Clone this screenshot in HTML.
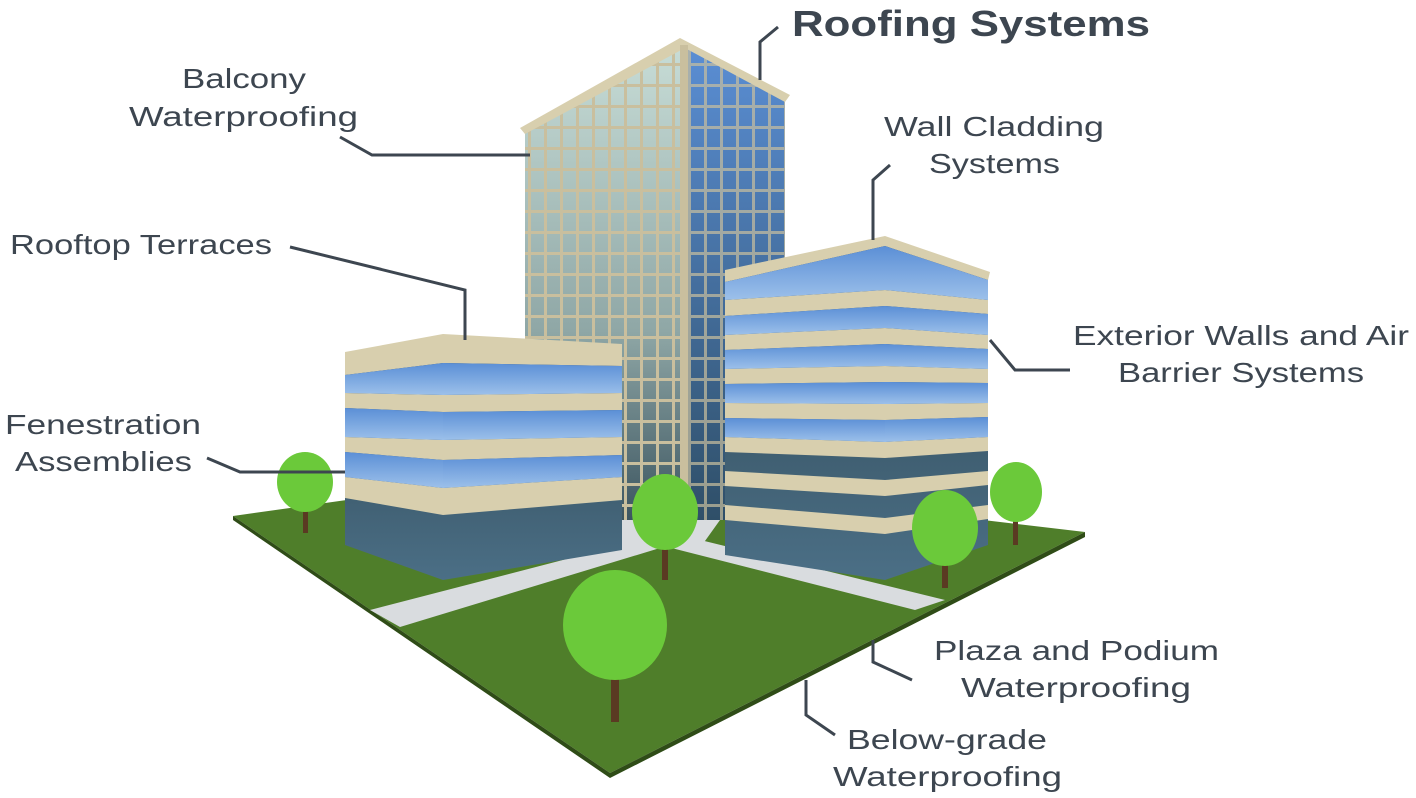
<!DOCTYPE html>
<html><head><meta charset="utf-8"><style>
body{margin:0;background:#fff;}
svg{display:block}
text{font-family:"Liberation Sans",sans-serif;fill:#3d4650;font-size:28px;}
</style></head><body>
<svg width="1416" height="798" viewBox="0 0 1416 798" xmlns="http://www.w3.org/2000/svg">
<defs>
<linearGradient id="gl" x1="0" y1="0" x2="0" y2="1"><stop offset="0" stop-color="#5b8fd6"/><stop offset="1" stop-color="#9cc0ea"/></linearGradient>
<linearGradient id="dk" x1="0" y1="0" x2="0" y2="1"><stop offset="0" stop-color="#2d4450"/><stop offset="1" stop-color="#4b6f86"/></linearGradient>
<linearGradient id="tw" x1="0" y1="0" x2="0" y2="1"><stop offset="0" stop-color="#c7dcd6"/><stop offset="0.6" stop-color="#8fa7a6"/><stop offset="1" stop-color="#3c5560"/></linearGradient>
<linearGradient id="tr" x1="0" y1="0" x2="0" y2="1"><stop offset="0" stop-color="#5a8ed4"/><stop offset="1" stop-color="#2f4f68"/></linearGradient>
<pattern id="twp" width="16" height="21" patternUnits="userSpaceOnUse"><rect x="0" y="0" width="3" height="21" fill="#c9bf9e"/><rect x="0" y="0" width="16" height="3" fill="#c9bf9e"/></pattern>
</defs>

<polygon points="233,516 560,470 1085,532 610,773" fill="#4f7e2a"/>
<polygon points="233,516 610,773 610,778 233,520" fill="#2f4c17"/>
<polygon points="610,773 1085,532 1085,537 610,778" fill="#2f4c17"/>
<polygon points="370,610 640,540 660,548 400,627" fill="#d9dcdf"/>
<polygon points="640,540 680,535 945,600 915,610" fill="#d9dcdf"/>
<polygon points="600,520 720,520 700,548 620,548" fill="#d9dcdf"/>

<polygon points="525,128 685,48 685,520 525,520" fill="url(#tw)"/>
<polygon points="525,128 685,48 685,520 525,520" fill="url(#twp)"/>
<polygon points="685,48 785,100 785,520 685,520" fill="url(#tr)"/>
<polygon points="685,48 785,100 785,520 685,520" fill="url(#twp)" opacity="0.7"/>
<polygon points="520,128 680,38 790,95 785,102 685,48 525,134" fill="#d8cfae"/>
<rect x="680" y="45" width="8" height="480" fill="#c9bf9e"/>

<polygon points="345,360 443,342 443,580 345,545" fill="url(#dk)"/>
<polygon points="443,342 622,352 622,550 443,580" fill="url(#dk)"/>
<g fill="#d8cfae">
<polygon points="345,352 443,334 443,363 345,375"/>
<polygon points="443,334 622,344 622,366 443,363"/>
<polygon points="345,393 443,395 443,412 345,408"/>
<polygon points="443,395 622,393 622,410 443,412"/>
<polygon points="345,437 443,440 443,460 345,452"/>
<polygon points="443,440 622,437 622,455 443,460"/>
<polygon points="345,477 443,488 443,515 345,498"/>
<polygon points="443,488 622,477 622,500 443,515"/>
</g>
<g fill="url(#gl)">
<polygon points="345,375 443,363 443,395 345,393"/>
<polygon points="443,363 622,366 622,393 443,395"/>
<polygon points="345,408 443,412 443,440 345,437"/>
<polygon points="443,412 622,410 622,437 443,440"/>
<polygon points="345,452 443,460 443,488 345,477"/>
<polygon points="443,460 622,455 622,477 443,488"/>
</g>

<polygon points="725,275 885,240 885,580 725,555" fill="url(#dk)"/>
<polygon points="885,240 988,275 988,545 885,580" fill="url(#dk)"/>
<polygon points="725,270 885,236 990,272 988,280 885,246 725,282" fill="#d8cfae"/>
<g fill="#d8cfae">
<polygon points="725,300 885,290 885,306 725,316"/><polygon points="885,290 988,300 988,314 885,306"/>
<polygon points="725,335 885,328 885,344 725,350"/><polygon points="885,328 988,335 988,349 885,344"/>
<polygon points="725,369 885,366 885,382 725,384"/><polygon points="885,366 988,369 988,383 885,382"/>
<polygon points="725,403 885,404 885,420 725,418"/><polygon points="885,404 988,403 988,417 885,420"/>
<polygon points="725,437 885,442 885,458 725,452"/><polygon points="885,442 988,437 988,451 885,458"/>
<polygon points="725,471 885,480 885,496 725,486"/><polygon points="885,480 988,471 988,485 885,496"/>
<polygon points="725,505 885,518 885,534 725,520"/><polygon points="885,518 988,505 988,519 885,534"/>
</g>
<g fill="url(#gl)">
<polygon points="725,282 885,246 885,290 725,300"/><polygon points="885,246 988,280 988,300 885,290"/>
<polygon points="725,316 885,306 885,328 725,335"/><polygon points="885,306 988,314 988,335 885,328"/>
<polygon points="725,350 885,344 885,366 725,369"/><polygon points="885,344 988,349 988,369 885,366"/>
<polygon points="725,384 885,382 885,404 725,403"/><polygon points="885,382 988,383 988,403 885,404"/>
<polygon points="725,418 885,420 885,442 725,437"/><polygon points="885,420 988,417 988,437 885,442"/>
</g>

<g>
<rect x="303" y="495" width="5" height="38" fill="#5a3a22"/><ellipse cx="305" cy="482" rx="28" ry="30" fill="#6bc93a"/>
<rect x="662" y="525" width="6" height="55" fill="#5a3a22"/><ellipse cx="665" cy="512" rx="33" ry="38" fill="#6bc93a"/>
<rect x="942" y="540" width="6" height="48" fill="#5a3a22"/><ellipse cx="945" cy="528" rx="33" ry="38" fill="#6bc93a"/>
<rect x="1013" y="505" width="5" height="40" fill="#5a3a22"/><ellipse cx="1016" cy="492" rx="26" ry="30" fill="#6bc93a"/>
<rect x="611" y="640" width="8" height="82" fill="#5a3a22"/><ellipse cx="615" cy="625" rx="52" ry="55" fill="#6bc93a"/>
</g>

<g fill="none" stroke="#3d4650" stroke-width="3">
<polyline points="760,80 760,42 778,27"/>
<polyline points="340,137 372,155 530,155"/>
<polyline points="873,240 873,180 890,165"/>
<polyline points="290,247 465,290 465,340"/>
<polyline points="990,340 1015,370 1070,370"/>
<polyline points="207,458 240,472 345,472"/>
<polyline points="873,640 873,662 912,680"/>
<polyline points="806,680 806,715 835,735"/>
</g>

<text x="792" y="36" textLength="358" lengthAdjust="spacingAndGlyphs" style="font-size:36px;font-weight:bold">Roofing Systems</text>
<text x="182" y="88" textLength="124" lengthAdjust="spacingAndGlyphs">Balcony</text>
<text x="129" y="126" textLength="229" lengthAdjust="spacingAndGlyphs">Waterproofing</text>
<text x="884" y="136" textLength="220" lengthAdjust="spacingAndGlyphs">Wall Cladding</text>
<text x="929" y="173" textLength="131" lengthAdjust="spacingAndGlyphs">Systems</text>
<text x="10" y="254" textLength="262" lengthAdjust="spacingAndGlyphs">Rooftop Terraces</text>
<text x="1073" y="345" textLength="336" lengthAdjust="spacingAndGlyphs">Exterior Walls and Air</text>
<text x="1118" y="382" textLength="246" lengthAdjust="spacingAndGlyphs">Barrier Systems</text>
<text x="5" y="434" textLength="196" lengthAdjust="spacingAndGlyphs">Fenestration</text>
<text x="15" y="471" textLength="177" lengthAdjust="spacingAndGlyphs">Assemblies</text>
<text x="934" y="660" textLength="285" lengthAdjust="spacingAndGlyphs">Plaza and Podium</text>
<text x="961" y="697" textLength="230" lengthAdjust="spacingAndGlyphs">Waterproofing</text>
<text x="847" y="749" textLength="200" lengthAdjust="spacingAndGlyphs">Below-grade</text>
<text x="833" y="786" textLength="229" lengthAdjust="spacingAndGlyphs">Waterproofing</text>
</svg>
</body></html>
